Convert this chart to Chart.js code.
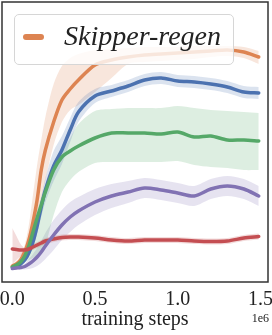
<!DOCTYPE html>
<html>
<head>
<meta charset="utf-8">
<script src="https://cdn.jsdelivr.net/npm/chart.js@4.4.1/dist/chart.umd.min.js"></script>
<style>
  body { margin: 0; background: #fff; }
  #wrap { position: relative; width: 272px; height: 335px; }
  #legend {
    position: absolute; left: 14px; top: 14px; width: 218px; height: 49px;
    border: 1px solid #d6d6d6; border-radius: 5px;
    background: rgba(255, 255, 255, 0.8);
  }
  #legend .mark {
    position: absolute; left: 8px; top: 19px; width: 21px; height: 6px;
    border-radius: 3px; background: #dd8452;
  }
  #legend .txt {
    position: absolute; left: 49px; top: 5px;
    font: italic 28px "Liberation Serif", serif; color: #222;
  }
  #offset {
    position: absolute; right: 3px; top: 311px;
    font: 12px "Liberation Serif", serif; color: #222;
  }
</style>
</head>
<body>
<div id="wrap">
  <canvas id="myChart"></canvas>
  <div id="legend"><span class="mark"></span><span class="txt">Skipper-regen</span></div>
  <div id="offset">1e6</div>
</div>
<script>
// training steps (x) for every series
const steps = [0, 25e3, 50e3, 75e3, 100e3, 125e3, 150e3, 175e3, 200e3, 250e3, 300e3, 350e3, 400e3,
               500e3, 600e3, 700e3, 800e3, 900e3, 1000e3, 1100e3, 1200e3, 1300e3, 1400e3, 1490e3];
const xTicks = [0, 0.5e6, 1.0e6, 1.5e6];

// mean return and band (lower / upper) per run
const orangeMean  = [16, 18, 22, 30, 42, 60, 82, 112, 132, 160, 182, 193, 202, 217, 222, 225, 227, 228, 229, 230, 231, 232, 230, 225];
const orangeLow   = [14, 15, 17, 22, 30, 42, 60, 82, 102, 137, 160, 172, 177, 190, 204, 218, 220, 221, 222, 223, 225, 226, 224, 218];
const orangeHigh  = [18, 21, 27, 37, 57, 87, 117, 142, 165, 198, 216, 224, 228, 232, 233, 234, 235, 235, 235, 236, 236, 236, 235, 231];

const blueMean    = [15, 16, 18, 22, 29, 40, 56, 75, 92, 116, 132, 152, 170, 186, 191, 196, 202, 204, 201, 200, 198, 195, 190, 189];
const blueBand    = [0, 1, 1, 2, 3, 5, 8, 10, 12, 15, 14, 12, 10, 7, 6, 6, 6, 6, 6, 6, 6, 6, 6, 6];

const greenMean   = [15, 17, 20, 26, 36, 50, 64, 77, 90, 112, 125, 131, 136, 144, 149, 149, 149, 148, 150, 145, 146, 142, 142, 141];
const greenLow    = [14, 15, 17, 20, 22, 24, 27, 32, 37, 67, 90, 102, 110, 119, 120, 120, 120, 120, 121, 117, 115, 114, 112, 112];
const greenHigh   = [16, 19, 24, 32, 44, 57, 72, 85, 97, 117, 130, 144, 158, 171, 173, 174, 174, 174, 176, 174, 172, 171, 170, 169];

const purpleMean  = [13.5, 14, 14.5, 15.5, 18, 21, 25, 30, 36, 47, 57, 65, 71, 80, 86, 90, 94, 92, 89, 86, 93, 96, 93, 86];
const purpleBand  = [1, 1, 2, 3, 5, 7, 9, 11, 13, 15, 15, 15, 14, 13, 12, 11, 10, 10, 10, 10, 10, 10, 10, 10];

const redMean     = [33, 32.5, 32, 32, 33, 35, 37, 39, 41, 43, 44.5, 45, 45, 44, 42, 41, 42, 42, 42, 41, 40.5, 41, 44, 45.5];
const redLow      = [18, 22, 26, 29, 30.5, 32, 34, 36, 38, 40, 41.5, 42, 42, 41, 39, 38, 39, 39, 39, 38, 37.5, 38, 41, 42.5];
const redHigh     = [54, 46, 38, 34, 35.5, 38, 40, 42, 44, 46, 47.5, 48, 48, 47, 45, 44, 45, 45, 45, 44, 43.5, 44, 47, 48.5];

const colors = {
  blue: '#4c72b0', orange: '#dd8452', green: '#55a868', red: '#c44e52', purple: '#8172b3'
};

function pts(ys) {
  return ys.map((y, i) => ({ x: steps[i], y: y }));
}
function shade(hex, a) {
  const n = parseInt(hex.slice(1), 16);
  return 'rgba(' + (n >> 16) + ',' + ((n >> 8) & 255) + ',' + (n & 255) + ',' + a + ')';
}

// two invisible datasets per band, the second one fills down to the first
function band(low, high, color) {
  return [
    { data: pts(low), borderWidth: 0, pointRadius: 0, fill: false, order: 10, tension: 0.3 },
    { data: pts(high), borderWidth: 0, pointRadius: 0, fill: '-1', order: 10, tension: 0.3,
      backgroundColor: shade(color, 0.2) }
  ];
}
function line(mean, color, order) {
  return { data: pts(mean), borderColor: color, borderWidth: 3.5, pointRadius: 0,
           fill: false, order: order, tension: 0.3, borderCapStyle: 'round' };
}

const datasets = [].concat(
  band(blueMean.map((v, i) => v - blueBand[i]), blueMean.map((v, i) => v + blueBand[i]), colors.blue),
  band(orangeLow, orangeHigh, colors.orange),
  band(greenLow, greenHigh, colors.green),
  band(redLow, redHigh, colors.red),
  band(purpleMean.map((v, i) => v - purpleBand[i]), purpleMean.map((v, i) => v + purpleBand[i]), colors.purple),
  [
    line(blueMean, colors.blue, 5),
    line(orangeMean, colors.orange, 4),
    line(greenMean, colors.green, 3),
    line(redMean, colors.red, 2),
    line(purpleMean, colors.purple, 1)
  ]
);

// dark frame around the plot
const frame = {
  id: 'frame',
  afterDraw(chart) {
    const a = chart.chartArea, c = chart.ctx;
    c.save();
    c.strokeStyle = '#333';
    c.lineWidth = 1.5;
    c.strokeRect(a.left, a.top, a.right - a.left, a.bottom - a.top);
    c.restore();
  }
};

const ctx = document.getElementById('myChart').getContext('2d');
new Chart(ctx, {
  type: 'line',
  data: { datasets: datasets },
  options: {
    responsive: true,
    maintainAspectRatio: false,
    animation: false,
    layout: { padding: { left: 2, right: 4, top: 2, bottom: 0 } },
    plugins: { legend: { display: false }, tooltip: { enabled: false } },
    scales: {
      x: {
        type: 'linear',
        min: -62300, max: 1546000,
        grid: { display: false, drawTicks: false },
        border: { display: false },
        afterBuildTicks: s => { s.ticks = xTicks.map(v => ({ value: v })); },
        afterFit: s => { s.height = 53; s.paddingLeft = 0; s.paddingRight = 0; },
        ticks: {
          padding: 6, color: '#222', maxRotation: 0,
          font: { family: 'Liberation Serif', size: 20 },
          callback: v => (v / 1e6).toFixed(1)
        },
        title: {
          display: true, text: 'training steps', color: '#222',
          font: { family: 'Liberation Serif', size: 20 },
          padding: { top: 0, bottom: 3 }
        }
      },
      y: { display: false, min: 0, max: 280 }
    }
  },
  plugins: [frame]
});
</script>
</body>
</html>
